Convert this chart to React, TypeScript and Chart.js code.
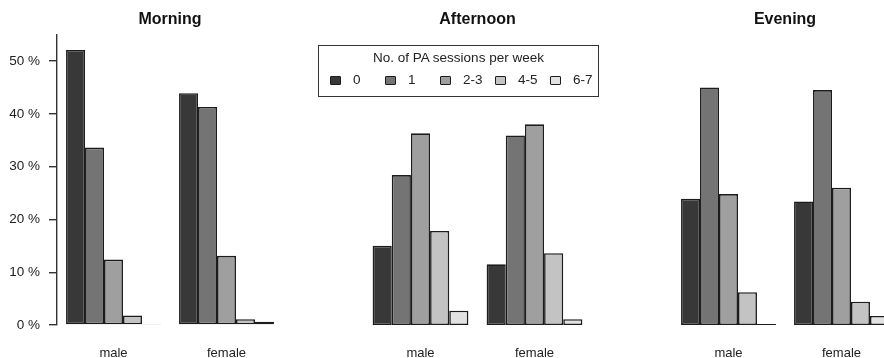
import React, { useEffect, useRef } from "react";
import { Chart, registerables } from "chart.js";

Chart.register(...registerables);

const genders = ["male", "female"];
const sessionLabels = ["0", "1", "2-3", "4-5", "6-7"];
const panelTitles = ["Morning", "Afternoon", "Evening"];
const legendTitle = "No. of PA sessions per week";
const yTickValues = [0, 10, 20, 30, 40, 50];

// values per session category, [male, female] order in each panel
const morningMale = [52.1, 33.6, 12.4, 1.8, 0];
const morningFemale = [43.9, 41.3, 13.1, 1.1, 0.6];
const afternoonMale = [15.0, 28.4, 36.3, 17.8, 2.7];
const afternoonFemale = [11.5, 35.9, 38.0, 13.6, 1.1];
const eveningMale = [23.9, 45.0, 24.8, 6.2, 0];
const eveningFemale = [23.4, 44.5, 26.0, 4.4, 1.7];

const panelMale = [morningMale, afternoonMale, eveningMale];
const panelFemale = [morningFemale, afternoonFemale, eveningFemale];

const fills = ["#383838", "#747474", "#9f9f9f", "#c3c3c3", "#e2e2e2"];
const edge = "#1c1c1c";
const FONT = "'Liberation Sans', Arial, Helvetica, sans-serif";

const panelTitlePlugin = {
  id: "panelTitle",
  afterDraw(chart: any, _args: any, opts: any) {
    const { ctx, chartArea } = chart;
    ctx.save();
    ctx.font = `bold 16px ${FONT}`;
    ctx.fillStyle = "#111";
    ctx.textAlign = "center";
    ctx.textBaseline = "middle";
    ctx.fillText(opts.text, (chartArea.left + chartArea.right) / 2, 20);
    ctx.restore();
  },
};

type PanelProps = {
  index: number;
  left: number;
  width: number;
  padLeft: number;
  padRight: number;
  showY: boolean;
};

function Panel({ index, left, width, padLeft, padRight, showY }: PanelProps) {
  const ref = useRef<HTMLCanvasElement | null>(null);
  useEffect(() => {
    if (!ref.current) return;
    const datasets = sessionLabels.map((lab, i) => ({
      label: lab,
      data: [panelMale[index][i], panelFemale[index][i]],
      backgroundColor: fills[i],
      borderColor: edge,
      borderWidth: 1.6,
      borderSkipped: false as any,
      minBarLength: 1,
      categoryPercentage: 0.84,
      barPercentage: 1.0,
    }));
    const chart = new Chart(ref.current, {
      type: "bar",
      data: { labels: genders, datasets },
      plugins: [panelTitlePlugin],
      options: {
        animation: false,
        responsive: false,
        maintainAspectRatio: false,
        layout: { padding: { left: padLeft, right: padRight, top: 34.6, bottom: 0 } },
        plugins: {
          legend: { display: false },
          tooltip: { enabled: false },
          panelTitle: { text: panelTitles[index] },
        } as any,
        scales: {
          x: {
            grid: { display: false, drawTicks: false },
            border: { display: false },
            ticks: { color: "#222", font: { family: FONT, size: 13 }, padding: 21 },
            afterFit: (s: any) => {
              s.height = 33;
            },
          },
          y: {
            display: showY,
            min: 0,
            max: 55,
            afterBuildTicks: (s: any) => {
              s.ticks = yTickValues.map((v) => ({ value: v }));
            },
            afterFit: (s: any) => {
              if (showY) s.width = 57;
            },
            grid: {
              display: true,
              drawOnChartArea: false,
              drawTicks: true,
              tickLength: 8,
              color: "#333",
              lineWidth: 1.4,
            },
            border: { display: true, color: "#333", width: 1.4 },
            ticks: {
              color: "#222",
              padding: 9,
              font: { family: FONT, size: 13.5 },
              callback: (v: any) => `${v} %`,
            },
          },
        },
      },
    });
    return () => chart.destroy();
  }, [index, padLeft, padRight, showY]);
  return (
    <div style={{ position: "absolute", left, top: 0, width, height: 358 }}>
      <canvas ref={ref} width={width} height={358} style={{ display: "block" }} />
    </div>
  );
}

function Legend() {
  return (
    <div
      style={{
        position: "absolute",
        left: 318,
        top: 45,
        width: 281,
        height: 52,
        border: "1.4px solid #333",
        boxSizing: "border-box",
        background: "#fff",
        fontFamily: FONT,
        color: "#222",
      }}
    >
      <div
        style={{
          position: "absolute",
          top: 3,
          left: 0,
          right: 0,
          textAlign: "center",
          fontSize: 13.5,
          lineHeight: "18px",
        }}
      >
        {legendTitle}
      </div>
      <div style={{ position: "absolute", top: 25, left: 11, display: "flex" }}>
        {sessionLabels.map((lab, i) => (
          <div
            key={lab}
            style={{ width: 55, height: 18, display: "flex", alignItems: "center" }}
          >
            <span
              style={{
                display: "inline-block",
                width: 11,
                height: 9,
                boxSizing: "border-box",
                border: `1.4px solid ${edge}`,
                borderRadius: 1,
                background: fills[i],
              }}
            />
            <span style={{ marginLeft: 12, fontSize: 13.5, lineHeight: "18px" }}>{lab}</span>
          </div>
        ))}
      </div>
    </div>
  );
}

export default function App() {
  return (
    <div
      style={{
        position: "fixed",
        left: 0,
        top: 0,
        width: 884,
        height: 358,
        overflow: "hidden",
        background: "#fff",
      }}
    >
      <Panel index={0} left={0} width={290} padLeft={0} padRight={7} showY={true} />
      <Panel index={1} left={300} width={310} padLeft={63.5} padRight={18.5} showY={false} />
      <Panel index={2} left={660} width={250} padLeft={12} padRight={12} showY={false} />
      <Legend />
    </div>
  );
}
